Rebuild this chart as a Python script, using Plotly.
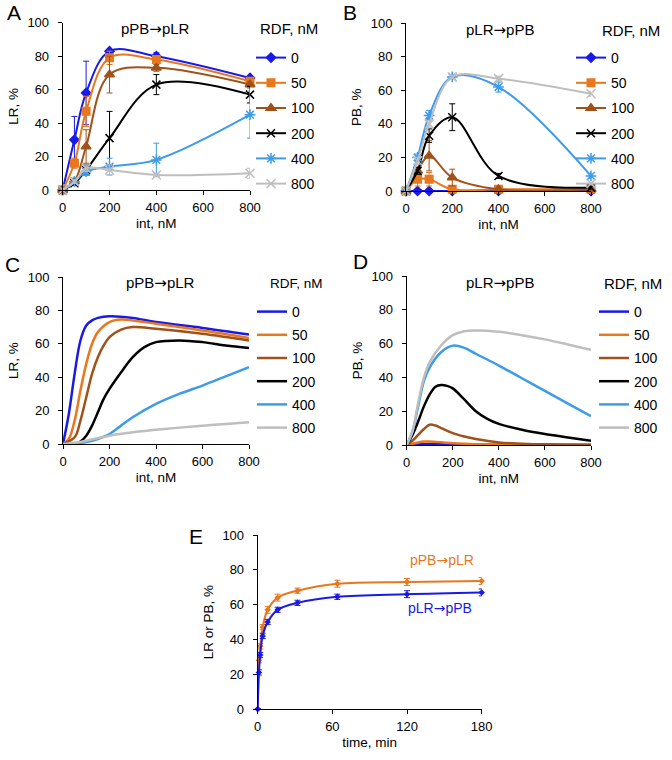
import plotly.graph_objects as go

FONT = "Liberation Sans, Arial, sans-serif"

RDF_LABELS = ["0", "50", "100", "200", "400", "800"]
COLORS = ["#1A1AE6", "#E8771E", "#A0521A", "#000000", "#3D9BEA", "#BEBEBE"]
SYMBOLS = ["diamond", "square", "triangle-up", "x-thin-open", "asterisk-open", "x-thin-open"]
MSIZE = [7, 7.5, 8.5, 8, 9, 9]

# ---------- Panel A: pPB->pLR, experimental ----------
INT_NM = [0, 50, 100, 200, 400, 800]
A_0 = [0, 30, 58, 83, 80, 67]
A_50 = [0, 16, 47, 79, 78, 65]
A_100 = [0, 5, 26, 69, 73, 63]
A_200 = [0, 4, 12, 31, 63, 57]
A_400 = [0, 5, 11, 14, 18, 45]
A_800 = [0, 5, 13, 12, 9, 10]
A_0_ERR = [1, 14, 19, 1, 2, 1]
A_50_ERR = [1, 3, 9, 4, 2, 2]
A_100_ERR = [1, 2, 10, 11, 2, 2]
A_200_ERR = [1, 1, 3, 16, 6, 5]
A_400_ERR = [3, 1, 2, 5, 10, 14]
A_800_ERR = [3, 1, 2, 3, 1, 3]

# ---------- Panel B: pLR->pPB, experimental ----------
B_0 = [0, 0, 0, 0, 0, 0]
B_50 = [0, 7, 7, 1, 1, 1]
B_100 = [0, 12, 21, 8, 1, 1]
B_200 = [0, 12, 33, 44, 9, 2]
B_400 = [0, 20, 45, 68, 62, 9]
B_800 = [0, 18, 40, 68, 67, 58]
B_0_ERR = [0, 0, 0, 0, 0, 0]
B_50_ERR = [0, 4, 4, 0.5, 0.5, 0.5]
B_100_ERR = [0, 2, 9, 5, 0.5, 0.5]
B_200_ERR = [0, 2, 4, 8, 1.5, 1]
B_400_ERR = [0, 2, 3, 1, 3, 1.5]
B_800_ERR = [0, 2, 2, 1, 1.5, 1.5]

# ---------- Panel C: pPB->pLR, model ----------
C_0_X = [0, 25, 50, 75, 100, 125, 150, 200, 300, 400, 600, 800]
C_0_Y = [0, 18, 42, 62, 71, 74, 75.5, 76.5, 75.5, 73, 69.5, 65.5]
C_50_X = [0, 25, 50, 75, 100, 125, 150, 200, 250, 300, 400, 600, 800]
C_50_Y = [0, 3, 14, 32, 48, 60, 67, 73, 74.5, 74, 72, 68, 63.5]
C_100_X = [0, 50, 75, 100, 125, 150, 175, 200, 250, 300, 400, 600, 800]
C_100_Y = [0, 4, 14, 28, 42, 52, 59, 64, 68.5, 70, 69, 66, 62]
C_200_X = [0, 50, 75, 100, 125, 150, 175, 200, 250, 300, 350, 400, 500, 600, 700, 800]
C_200_Y = [0, 0.3, 1.5, 5, 11, 19, 27, 33, 43, 52, 58, 61, 62, 61, 59, 57.5]
C_400_X = [0, 50, 100, 150, 200, 250, 300, 400, 500, 600, 700, 800]
C_400_Y = [0, 0.3, 1.2, 3, 6, 11, 16, 24, 30, 35, 40.5, 46]
C_800_X = [0, 50, 100, 150, 200, 300, 400, 500, 600, 700, 800]
C_800_Y = [0, 0.8, 2, 3.5, 5, 7, 8.5, 9.8, 11, 12, 13]

# ---------- Panel D: pLR->pPB, model ----------
D_0_X = [0, 50, 100, 150, 200, 300, 400, 600, 800]
D_0_Y = [0, 0.4, 0.6, 0.5, 0.4, 0.2, 0.1, 0, 0]
D_50_X = [0, 25, 50, 75, 100, 150, 200, 300, 400, 600, 800]
D_50_Y = [0, 0.7, 1.5, 2, 2, 1.6, 1.1, 0.5, 0.2, 0.1, 0]
D_100_X = [0, 25, 50, 75, 100, 125, 150, 200, 250, 300, 400, 500, 600, 800]
D_100_Y = [0, 2.5, 6, 9.5, 12, 11.5, 10, 7, 5, 3.5, 1.5, 0.8, 0.4, 0.2]
D_200_X = [0, 25, 50, 75, 100, 125, 150, 175, 200, 250, 300, 350, 400, 500, 600, 700, 800]
D_200_Y = [0, 6, 14, 23, 30, 34.5, 35.5, 35, 33.5, 27, 20, 15.5, 12.5, 9, 6.5, 4.5, 2.5]
D_400_X = [0, 25, 50, 75, 100, 150, 200, 250, 300, 400, 500, 600, 700, 800]
D_400_Y = [0, 8, 23, 38, 46, 55, 58.8, 57.5, 54, 47, 39.5, 32, 24.5, 17]
D_800_X = [0, 25, 50, 75, 100, 150, 200, 250, 300, 400, 500, 600, 700, 800]
D_800_Y = [0, 8, 25, 40, 49, 59, 65, 67.3, 67.8, 67, 65, 62.5, 59.5, 56.3]

# ---------- Panel E: time course ----------
TIME_MIN = [0, 1, 2, 4, 8, 16, 32, 64, 120, 180]
E_PB_TO_LR = [0, 28, 36, 47, 57, 64, 68, 72, 73, 73.5]
E_LR_TO_PB = [0, 21, 31, 42, 50, 57, 61, 64.5, 66, 67]
E_PB_TO_LR_ERR = [0, 1.5, 1.5, 1.5, 2, 2, 1.5, 2, 2, 2]
E_LR_TO_PB_ERR = [0, 1.5, 1.5, 1.5, 1.5, 1.5, 1.5, 1.5, 2, 2]

fig = go.Figure()

A_Y = [A_0, A_50, A_100, A_200, A_400, A_800]
A_E = [A_0_ERR, A_50_ERR, A_100_ERR, A_200_ERR, A_400_ERR, A_800_ERR]
B_Y = [B_0, B_50, B_100, B_200, B_400, B_800]
B_E = [B_0_ERR, B_50_ERR, B_100_ERR, B_200_ERR, B_400_ERR, B_800_ERR]
C_XY = [(C_0_X, C_0_Y), (C_50_X, C_50_Y), (C_100_X, C_100_Y),
        (C_200_X, C_200_Y), (C_400_X, C_400_Y), (C_800_X, C_800_Y)]
D_XY = [(D_0_X, D_0_Y), (D_50_X, D_50_Y), (D_100_X, D_100_Y),
        (D_200_X, D_200_Y), (D_400_X, D_400_Y), (D_800_X, D_800_Y)]


def exp_traces(ys, errs, xa, ya, leg, tag):
    for i in range(6):
        fig.add_trace(go.Scatter(
            x=INT_NM, y=ys[i], name=RDF_LABELS[i], mode="lines+markers",
            xaxis=xa, yaxis=ya, legend=leg, legendgroup=tag + str(i),
            line=dict(color=COLORS[i], width=2, shape="spline", smoothing=1),
            marker=dict(symbol=SYMBOLS[i], size=MSIZE[i], color=COLORS[i],
                        line=dict(color=COLORS[i], width=1.5)),
            error_y=dict(type="data", array=errs[i], color=COLORS[i],
                         thickness=1, width=3),
            cliponaxis=False))


def model_traces(xys, xa, ya, leg, tag):
    for i in range(6):
        fig.add_trace(go.Scatter(
            x=xys[i][0], y=xys[i][1], name=RDF_LABELS[i], mode="lines",
            xaxis=xa, yaxis=ya, legend=leg, legendgroup=tag + str(i),
            line=dict(color=COLORS[i], width=2.5, shape="spline", smoothing=1),
            cliponaxis=False))


exp_traces(A_Y, A_E, "x", "y", "legend", "a")
exp_traces(B_Y, B_E, "x2", "y2", "legend2", "b")
model_traces(C_XY, "x3", "y3", "legend3", "c")
model_traces(D_XY, "x4", "y4", "legend4", "d")

E_ORANGE = "#E8771E"
E_BLUE = "#1A1AE6"
fig.add_trace(go.Scatter(
    x=TIME_MIN, y=E_PB_TO_LR, mode="lines+markers", xaxis="x5", yaxis="y5",
    showlegend=False, line=dict(color=E_ORANGE, width=2, shape="spline", smoothing=1),
    marker=dict(symbol="diamond", size=5, color=E_ORANGE),
    error_y=dict(type="data", array=E_PB_TO_LR_ERR, color=E_ORANGE, thickness=1, width=3),
    cliponaxis=False))
fig.add_trace(go.Scatter(
    x=TIME_MIN, y=E_LR_TO_PB, mode="lines+markers", xaxis="x5", yaxis="y5",
    showlegend=False, line=dict(color=E_BLUE, width=2, shape="spline", smoothing=1),
    marker=dict(symbol="diamond", size=5, color=E_BLUE),
    error_y=dict(type="data", array=E_LR_TO_PB_ERR, color=E_BLUE, thickness=1, width=3),
    cliponaxis=False))

# figure is a bit wider than the 672px window so legends near the right edge
# are not pushed inward; the extra strip is hidden by the page.
W, H = 720, 760


def px_x(v):
    return v / W


def px_y(v):
    return 1 - v / H


def axis(dom, rng, dtick, title, anchor, standoff, lblstand):
    return dict(domain=dom, range=rng, dtick=dtick, anchor=anchor, automargin=False,
                showline=True, linecolor="black", linewidth=1,
                ticks="outside", ticklen=4, tickcolor="black", tickwidth=1,
                ticklabelstandoff=lblstand,
                showgrid=False, zeroline=False, fixedrange=True,
                tickfont=dict(family=FONT, size=13, color="black"),
                title=dict(text=title, font=dict(family=FONT, size=13.5, color="black"),
                           standoff=standoff))


doms = {
    "A": ([px_x(62.7), px_x(250)], [px_y(190), px_y(22.7)]),
    "B": ([px_x(406), px_x(591)], [px_y(191), px_y(23.3)]),
    "C": ([px_x(63), px_x(249)], [px_y(444), px_y(277)]),
    "D": ([px_x(406.7), px_x(591)], [px_y(445), px_y(276)]),
    "E": ([px_x(257.7), px_x(481.7)], [px_y(709), px_y(535)]),
}

layout = dict(
    template="none",
    width=W, height=H, margin=dict(l=0, r=0, t=0, b=0, pad=0, autoexpand=False),
    paper_bgcolor="white", plot_bgcolor="white",
    font=dict(family=FONT, size=13, color="black"),
)
for k, (name, xt, yt) in enumerate([("A", "int, nM", "LR, %"), ("B", "int, nM", "PB, %"),
                                     ("C", "int, nM", "LR, %"), ("D", "int, nM", "PB, %")]):
    n = "" if k == 0 else str(k + 1)
    layout["xaxis" + n] = axis(doms[name][0], [0, 800], 200, xt, "y" + n, 4, 1)
    layout["yaxis" + n] = axis(doms[name][1], [0, 100], 20, yt, "x" + n, 5, 6)
layout["xaxis5"] = axis(doms["E"][0], [0, 180], 60, "time, min", "y5", 4, 1)
layout["yaxis5"] = axis(doms["E"][1], [0, 100], 20, "LR or PB, %", "x5", 5, 6)


def leg(x0, ytop, gap):
    return dict(x=px_x(x0), y=px_y(ytop), xanchor="left", yanchor="top",
                bgcolor="rgba(0,0,0,0)", borderwidth=0, tracegroupgap=gap,
                traceorder="grouped", itemclick=False, itemdoubleclick=False,
                font=dict(family=FONT, size=14, color="black"))


layout["legend"] = leg(251, 42, 4)
layout["legend2"] = leg(571, 42, 4)
layout["legend3"] = leg(252, 296, 2)
layout["legend4"] = leg(594, 296, 2)

ann = []


def text(x, y, s, size, color="black", xanchor="center"):
    ann.append(dict(x=px_x(x), y=px_y(y), xref="paper", yref="paper", text=s,
                    showarrow=False, xanchor=xanchor, yanchor="middle",
                    font=dict(family=FONT, size=size, color=color)))


ARROW = "<span style='font-family:DejaVu Sans'>\u2192</span>"

text(14, 13, "A", 21)
text(350, 12, "B", 21)
text(12, 265, "C", 21)
text(360, 261, "D", 21)
text(196, 536, "E", 21)
text(155, 29, "pPB" + ARROW + "pLR", 15)
text(500, 30, "pLR" + ARROW + "pPB", 15)
text(160, 283, "pPB" + ARROW + "pLR", 15)
text(500, 283, "pLR" + ARROW + "pPB", 15)
text(258, 28, "RDF, nM", 15, xanchor="left")
text(600, 30, "RDF, nM", 15, xanchor="left")
text(268, 283, "RDF, nM", 13.5, xanchor="left")
text(602, 283, "RDF, nM", 15, xanchor="left")
text(442, 560, "pPB" + ARROW + "pLR", 14, E_ORANGE)
text(440, 608, "pLR" + ARROW + "pPB", 14, E_BLUE)
layout["annotations"] = ann

fig.update_layout(**layout)
fig.write_html("out.html", config={"displayModeBar": False},
               post_script="document.body.style.margin='0';document.body.style.overflow='hidden';")
